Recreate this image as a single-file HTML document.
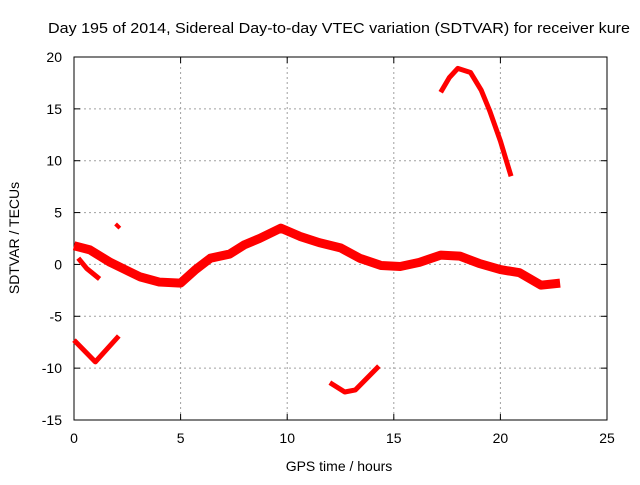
<!DOCTYPE html>
<html><head><meta charset="utf-8"><style>
body{margin:0;background:#fff;width:640px;height:480px;overflow:hidden}
svg{font-family:"Liberation Sans",sans-serif;font-size:14px}
</style></head><body>
<svg id="chart" width="640" height="480">
<rect width="640" height="480" fill="#fff"/>
<text x="48" y="33" textLength="582" lengthAdjust="spacingAndGlyphs" style="font-size:15px">Day 195 of 2014, Sidereal Day-to-day VTEC variation (SDTVAR) for receiver kure</text>
<g id="grid"></g>
<g id="axes"></g>
<g id="series"></g>
<text x="339" y="471" text-anchor="middle">GPS time / hours</text>
<text transform="translate(19,238) rotate(-90)" text-anchor="middle">SDTVAR / TECUs</text>
</svg>
<script>
const xTicks=[0,5,10,15,20,25];
const yTicks=[-15,-10,-5,0,5,10,15,20];
const mainX=[0,0.75,1.7,2.4,3.1,4.0,5.0,5.7,6.4,7.3,8.0,8.7,9.7,10.6,11.5,12.5,13.4,14.4,15.3,16.2,17.2,18.1,19.0,20.0,20.9,21.9,22.8];
const mainY=[1.8,1.4,0.2,-0.5,-1.2,-1.7,-1.8,-0.5,0.6,1.0,1.9,2.5,3.5,2.7,2.1,1.6,0.6,-0.1,-0.2,0.2,0.9,0.8,0.1,-0.5,-0.8,-2.0,-1.8];
const branchX=[0.2,0.6,1.2];
const branchY=[0.6,-0.4,-1.4];
const vX=[0,1.0,2.1];
const vY=[-7.3,-9.4,-6.9];
const lowX=[12.0,12.7,13.2,14.3];
const lowY=[-11.4,-12.3,-12.1,-9.8];
const topX=[17.2,17.6,18.0,18.6,19.1,19.5,20.0,20.5];
const topY=[16.6,18.0,18.9,18.5,16.8,14.8,11.9,8.5];
const blipX=[1.95,2.15];
const blipY=[3.9,3.5];
const L=74,R=607,T=57,B=420,XMIN=0,XMAX=25,YMIN=-15,YMAX=20;
const sx=v=>L+(v-XMIN)/(XMAX-XMIN)*(R-L);
const sy=v=>B-(v-YMIN)/(YMAX-YMIN)*(B-T);
const NS='http://www.w3.org/2000/svg';
function mk(t,a,p){const e=document.createElementNS(NS,t);for(const k in a)e.setAttribute(k,a[k]);p.appendChild(e);return e;}
const grid=document.getElementById('grid'),axes=document.getElementById('axes'),ser=document.getElementById('series');
xTicks.forEach(v=>{
 if(v>XMIN&&v<XMAX){const g=mk('line',{x1:sx(v),x2:sx(v),y1:T,y2:B,stroke:'#a0a0a0','stroke-dasharray':'2,3'},grid);
 
 }
 const t=mk('text',{x:sx(v),y:B+23,'text-anchor':'middle'},axes);t.textContent=v;
 
 
 mk('line',{x1:sx(v),x2:sx(v),y1:B,y2:B-6,stroke:'#000'},axes);
 mk('line',{x1:sx(v),x2:sx(v),y1:T,y2:T+6,stroke:'#000'},axes);
});
yTicks.forEach(v=>{
 if(v>YMIN&&v<YMAX){const g=mk('line',{x1:L,x2:R,y1:sy(v),y2:sy(v),stroke:'#a0a0a0','stroke-dasharray':'2,3'},grid);
 
 }
 const t=mk('text',{x:L-12,y:sy(v)+5,'text-anchor':'end'},axes);t.textContent=v;
 
 
 mk('line',{x1:L,x2:L+6,y1:sy(v),y2:sy(v),stroke:'#000'},axes);
 mk('line',{x1:R,x2:R-6,y1:sy(v),y2:sy(v),stroke:'#000'},axes);
});
mk('rect',{x:L,y:T,width:R-L,height:B-T,fill:'none',stroke:'#000'},axes);
function line(xs,ys,w,name){
 const p=mk('polyline',{points:xs.map((x,i)=>sx(x)+','+sy(ys[i])).join(' '),fill:'none',stroke:'#ff0000','stroke-width':w,'stroke-linejoin':'round'},ser);
 
 
}
line(mainX,mainY,9,'main-band');
line(branchX,branchY,5,'early-branch');
line(vX,vY,5,'v-segment');
line(lowX,lowY,5,'low-segment');
line(topX,topY,5,'top-segment');
line(blipX,blipY,4,'blip-segment');
</script>
</body></html>
